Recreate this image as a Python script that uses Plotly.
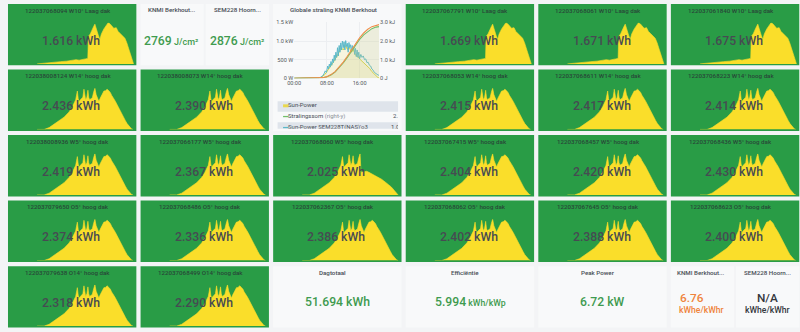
import plotly.graph_objects as go

# ------------------------------------------------------------------ data
PANEL_TITLES = [
    "122037068094 W10° Laag dak", "122037067791 W10° Laag dak",
    "122037068061 W10° Laag dak", "122037061840 W10° Laag dak",
    "122038008124 W14° hoog dak", "122038008073 W14° hoog dak",
    "122037068053 W14° hoog dak", "122037068611 W14° hoog dak",
    "122037068223 W14° hoog dak",
    "122038008936 W5° hoog dak", "122037066177 W5° hoog dak",
    "122037068060 W5° hoog dak", "122037067415 W5° hoog dak",
    "122037068457 W5° hoog dak", "122037068436 W5° hoog dak",
    "122037079650 O5° hoog dak", "122037068486 O5° hoog dak",
    "122037062367 O5° hoog dak", "122037068062 O5° hoog dak",
    "122037067645 O5° hoog dak", "122037068623 O5° hoog dak",
    "122037079638 O14° hoog dak", "122037068499 O14° hoog dak",
]
PANEL_KWH = [
    "1.616", "1.669", "1.671", "1.675",
    "2.436", "2.390", "2.415", "2.417", "2.414",
    "2.419", "2.367", "2.025", "2.404", "2.420", "2.430",
    "2.374", "2.336", "2.386", "2.402", "2.388", "2.400",
    "2.318", "2.290",
]
PANEL_PROFILE = [
    "laag", "laag", "laag", "laag",
    "hoog", "hoog", "hoog", "hoog", "hoog",
    "hoog", "hoog", "schaduw", "hoog", "hoog", "hoog",
    "hoog", "hoog", "hoog", "hoog", "hoog", "hoog",
    "hoog", "hoog",
]

# sparkline profiles (hour of day, watt)
LAAG_T = [4.7, 5.5, 6.5, 7.5, 8.5, 9.5, 10.5, 11.0, 11.5, 12.0, 12.5, 12.9, 13.0,
          13.3, 13.6, 13.85, 14.05, 14.3, 14.6, 14.85, 15.1, 15.5, 15.9, 16.2,
          16.5, 16.8, 17.1, 17.5, 17.8, 18.1, 18.3, 18.6, 18.9, 19.2, 19.4, 19.7,
          20.0, 20.15, 20.3]
LAAG_W = [0, 5, 10, 14, 18, 22, 28, 34, 30, 38, 40, 44, 220,
          240, 280, 300, 318, 270, 230, 195, 240, 280, 315, 330,
          320, 300, 285, 290, 260, 245, 235, 215, 205, 170, 140, 90,
          40, 12, 0]
HOOG_T = [4.7, 5.84, 6.65, 7.45, 8.26, 9.06, 9.87, 10.40, 10.94, 11.21, 11.35,
          11.47, 11.70, 11.90, 12.10, 12.28, 12.42, 12.55, 12.75, 12.92, 13.05,
          13.19, 13.40, 13.62, 13.85, 14.05, 14.25, 14.42, 14.69, 14.88, 15.07,
          15.30, 15.50, 15.75, 16.03, 16.30, 16.56, 16.75, 16.94, 17.15, 17.37,
          17.65, 17.91, 18.20, 18.45, 18.70, 18.98, 19.25, 19.52, 19.75, 19.95,
          20.2]
HOOG_W = [0, 0, 14, 41, 68, 95, 136, 176, 230, 298, 240,
          217, 230, 244, 250, 312, 260, 230, 250, 304, 250,
          230, 238, 244, 290, 320, 270, 244, 217, 240, 258,
          280, 298, 300, 312, 300, 285, 265, 244, 235, 217,
          190, 163, 135, 108, 88, 68, 45, 27, 14, 5,
          0]
SCHADUW_T = [4.7, 5.84, 6.65, 7.45, 8.26, 9.06, 9.87, 10.40, 10.94, 11.21, 11.35,
             11.47, 11.70, 11.90, 12.10, 12.28, 12.42, 12.55, 12.75, 12.92, 13.05,
             13.19, 13.40, 13.62, 13.85, 14.05, 14.2, 14.5, 14.8, 15.12, 15.4,
             15.7, 15.92, 16.3, 16.73, 17.1, 17.53, 17.9, 18.34, 18.7, 19.14,
             19.5, 19.95, 20.2]
SCHADUW_W = [0, 0, 14, 41, 68, 95, 136, 176, 230, 298, 240,
             217, 230, 244, 250, 312, 260, 230, 250, 304, 250,
             230, 238, 244, 290, 320, 176, 180, 185, 184, 178,
             170, 168, 158, 149, 135, 122, 108, 95, 78, 60,
             38, 14, 0]

# Globale straling chart
SEM_T = [0, 5.5, 6.0, 6.5, 7.0, 7.3, 7.6, 7.9, 8.2, 8.4, 8.6, 8.8, 9.0, 9.2, 9.4,
         9.6, 9.8, 10.0, 10.2, 10.4, 10.6, 10.8, 11.0, 11.2, 11.4, 11.6, 11.8,
         12.0, 12.2, 12.4, 12.6, 12.8, 13.0, 13.2, 13.4, 13.6, 13.8, 14.0, 14.2,
         14.4, 14.6, 14.8, 15.0, 15.2, 15.4, 15.6, 15.8, 16.0, 16.3, 16.6, 16.9,
         17.2, 17.5, 17.8, 18.1, 18.4, 18.7, 19.0, 19.3, 19.6, 19.9, 20.2, 20.5,
         20.75]
SEM_W = [0, 0, 10, 30, 70, 120, 200, 160, 330, 250, 380, 300, 450, 350, 520,
         420, 620, 480, 700, 560, 820, 600, 880, 700, 950, 760, 1000,
         820, 980, 760, 1010, 850, 940, 700, 960, 820, 900, 720, 880,
         760, 840, 640, 800, 580, 760, 560, 700, 520, 640, 560, 600,
         500, 520, 420, 430, 350, 330, 250, 220, 160, 130, 110, 90,
         80]
KNMI_T = [0, 5.5, 6.5, 7.5, 8.5, 9.5, 10.5, 11.0, 11.5, 12.0, 12.5, 13.0, 13.5,
          14.0, 14.5, 15.0, 15.5, 16.0, 16.5, 17.0, 17.5, 18.0, 18.5, 19.0, 19.5,
          20.0, 20.5, 20.75]
KNMI_W = [0, 0, 20, 100, 250, 420, 600, 700, 820, 760, 880, 780, 820,
          700, 760, 620, 600, 520, 470, 420, 380, 320, 260, 180, 120,
          60, 20, 10]
CUM_T = [0, 5, 6, 7, 8, 9, 10, 11, 12, 13, 14, 15, 16, 17, 18, 19, 20, 20.75]
CUM_KNMI = [0, 0, 0.01, 0.03, 0.08, 0.18, 0.33, 0.55, 0.82, 1.12, 1.45, 1.78,
            2.08, 2.33, 2.52, 2.66, 2.745, 2.769]
CUM_SEM = [0, 0, 0.01, 0.035, 0.09, 0.2, 0.36, 0.59, 0.87, 1.18, 1.52, 1.86,
           2.17, 2.43, 2.63, 2.77, 2.85, 2.876]
X_TICKS = [0, 8, 16]
X_LABELS = ["00:00", "08:00", "16:00"]
POWER_TICKS = [0, 500, 1000, 1500]
POWER_LABELS = ["0 W", "500 W", "1.0 kW", "1.5 kW"]
ENERGY_TICKS = [0, 1, 2, 3]
ENERGY_LABELS = ["0 J", "1.0 kJ", "2.0 kJ", "3.0 kJ"]
LEGEND_NAMES = ["Sun-Power", "Stralingssom", "Sun-Power SEM228T(NAS)'o3"]
LEGEND_VALUES = ["", "2.77 kJ", "1.06 kW"]

# stat panels
KNMI_SUM, SEM_SUM = "2769", "2876"
DAGTOTAAL = "51.694"
EFFICIENTIE = "5.994"
PEAK_POWER = "6.72"
KNMI_RATIO, SEM_RATIO = "6.76", "N/A"

# ------------------------------------------------------------------ layout helpers
W, H = 800, 332
BG = "#f3f4f6"
PANEL_BG = "#f8f9fa"
GREEN = "#299c46"
YELLOW = "#fade2a"
TEXT = "#464c54"
VAL_GREEN = "#3f9b4f"
ORANGE = "#ef843c"
FONT = "Roboto, Inter, sans-serif"

PANEL_SLOTS = [(0, 0), (0, 3), (0, 4), (0, 5),
               (1, 0), (1, 1), (1, 3), (1, 4), (1, 5),
               (2, 0), (2, 1), (2, 2), (2, 3), (2, 4), (2, 5),
               (3, 0), (3, 1), (3, 2), (3, 3), (3, 4), (3, 5),
               (4, 0), (4, 1)]
COL_X0 = [1 + 133.75 * i for i in range(6)]
ROW_Y0 = [1 + 66.75 * j for j in range(5)]
PW, PH = 129.5, 62.5


def fx(px):
    return px / W


def fy(py):
    return 1 - py / H


fig = go.Figure()
layout = dict(width=W, height=H, autosize=False,
              margin=dict(l=0, r=0, t=0, b=0, pad=0),
              paper_bgcolor=BG, plot_bgcolor="rgba(0,0,0,0)",
              showlegend=False, font=dict(family=FONT, color=TEXT))
shapes, annots = [], []


def rect(x0, y0, x1, y1, color, layer="below"):
    shapes.append(dict(type="rect", xref="paper", yref="paper",
                       x0=fx(x0), x1=fx(x1), y0=fy(y1), y1=fy(y0),
                       fillcolor=color, line=dict(width=0), layer=layer))


def text(x, y, s, size, color=TEXT, weight=400, xanchor="center"):
    annots.append(dict(x=fx(x), y=fy(y), xref="paper", yref="paper", text=s,
                       showarrow=False, xanchor=xanchor, yanchor="middle",
                       font=dict(size=size, color=color, family=FONT, weight=weight),
                       borderpad=0))


profiles = {"laag": (LAAG_T, LAAG_W), "hoog": (HOOG_T, HOOG_W),
            "schaduw": (SCHADUW_T, SCHADUW_W)}

# ------------------------------------------------------------------ green sparkline stat panels
for k, (title, val, prof, (r, c)) in enumerate(zip(PANEL_TITLES, PANEL_KWH,
                                                    PANEL_PROFILE, PANEL_SLOTS)):
    x0, y0 = COL_X0[c], ROW_Y0[r]
    x1, y1 = x0 + PW, y0 + PH
    rect(x0, y0, x1, y1, GREEN)
    n = 10 + k
    t, w = profiles[prof]
    layout[f"xaxis{n}"] = dict(domain=[fx(x0), fx(x1)], range=[0, 20.75],
                               visible=False, fixedrange=True, anchor=f"y{n}")
    layout[f"yaxis{n}"] = dict(domain=[fy(y1 - 1.5), fy(y0 + 19)],
                               range=[0, max(w)], visible=False,
                               fixedrange=True, anchor=f"x{n}")
    fig.add_trace(go.Scatter(x=t, y=w, mode="lines", fill="tozeroy",
                             fillcolor=YELLOW, line=dict(color=YELLOW, width=0.6),
                             xaxis=f"x{n}", yaxis=f"y{n}", hoverinfo="skip"))
    cx = (x0 + x1) / 2
    text(cx - 4.5, y0 + 6.8, title, 6.2, color="rgba(40,46,52,0.8)", weight=500)
    text(cx - 1, y0 + 37.5, f"{val} kWh", 12.2, color="#464b52", weight=500)

# ------------------------------------------------------------------ white stat panels
c1 = COL_X0[1]
rect(c1, ROW_Y0[0], c1 + 63.75, ROW_Y0[0] + PH, PANEL_BG)
rect(c1 + 65.75, ROW_Y0[0], c1 + PW, ROW_Y0[0] + PH, PANEL_BG)
text(166, 6.8, "KNMI Berkhout...", 6.2, weight=500)
text(165.5, 39, f"{KNMI_SUM}<span style='font-size:9px'> J/cm²</span>", 12.2,
     color=VAL_GREEN, weight=500)
text(233, 6.8, "SEM228 Hoorn...", 6.2, weight=500)
text(233, 39, f"{SEM_SUM}<span style='font-size:9px'> J/cm²</span>", 12.2,
     color=VAL_GREEN, weight=500)

yb = ROW_Y0[4]
for c in (2, 3, 4):
    rect(COL_X0[c], yb, COL_X0[c] + PW, yb + PH, PANEL_BG)
c5 = COL_X0[5]
rect(c5, yb, c5 + 63.75, yb + PH, PANEL_BG)
rect(c5 + 65.75, yb, c5 + PW, yb + PH, PANEL_BG)
text(328.8, yb + 6.8, "Dagtotaal", 6.2, weight=500)
text(333.3, yb + 37, f"{DAGTOTAAL} kWh", 12.2, color=VAL_GREEN, weight=500)
text(462.5, yb + 6.8, "Efficiëntie", 6.2, weight=500)
text(467.2, yb + 37, f"{EFFICIENTIE}<span style='font-size:8.7px'> kWh/kWp</span>",
     12.2, color=VAL_GREEN, weight=500)
text(596.3, yb + 6.8, "Peak Power", 6.2, weight=500)
text(600.8, yb + 37, f"{PEAK_POWER} kW", 12.2, color=VAL_GREEN, weight=500)
text(700.5, yb + 6.8, "KNMI Berkhout...", 6.2, weight=500)
text(691, yb + 32.3, KNMI_RATIO, 11.8, color=ORANGE, weight=500)
text(700.7, yb + 44.2, "kWhe/kWhr", 8.6, color=ORANGE, weight=500)
text(767, yb + 6.8, "SEM228 Hoorn...", 6.2, weight=500)
text(767.7, yb + 32.3, SEM_RATIO, 11.8, color="#33373d", weight=500)
text(767.7, yb + 44.2, "kWhe/kWhr", 8.6, color="#33373d", weight=500)

# ------------------------------------------------------------------ chart panel
cx0 = COL_X0[2]
rect(cx0, ROW_Y0[0], cx0 + PW, ROW_Y0[1] + PH, PANEL_BG)
text(329, 6.8, "Globale straling KNMI Berkhout", 6.2, weight=500)

tickfont = dict(size=5.6, color="#555a61", family=FONT)
layout["xaxis"] = dict(domain=[fx(289.7), fx(375.3)], range=[0, 20.75],
                       tickvals=X_TICKS, ticktext=X_LABELS, tickfont=tickfont,
                       showgrid=True, gridcolor="#eceef1", gridwidth=0.6,
                       zeroline=False, showline=False, ticks="", fixedrange=True,
                       anchor="y")
layout["yaxis"] = dict(domain=[fy(76.7), fy(19.7)], range=[0, 1500],
                       tickvals=POWER_TICKS, ticktext=POWER_LABELS, tickfont=tickfont,
                       showgrid=True, gridcolor="#eceef1", gridwidth=0.6,
                       zeroline=False, showline=False, ticks="", fixedrange=True,
                       anchor="x")
layout["yaxis2"] = dict(overlaying="y", side="right", range=[0, 3],
                        tickvals=ENERGY_TICKS, ticktext=ENERGY_LABELS,
                        tickfont=tickfont, showgrid=False, zeroline=False,
                        showline=False, ticks="", fixedrange=True, anchor="x")

fig.add_trace(go.Scatter(x=KNMI_T, y=KNMI_W, mode="lines", fill="tozeroy",
                         fillcolor="rgba(242,222,60,0.14)",
                         line=dict(color="#d6d33f", width=1),
                         xaxis="x", yaxis="y", hoverinfo="skip"))
fig.add_trace(go.Scatter(x=SEM_T, y=SEM_W, mode="lines",
                         line=dict(color="#5cb8c8", width=1),
                         xaxis="x", yaxis="y", hoverinfo="skip"))
fig.add_trace(go.Scatter(x=CUM_T, y=CUM_KNMI, mode="lines", fill="tozeroy",
                         fillcolor="rgba(200,204,130,0.25)",
                         line=dict(color="#73bf69", width=1.1),
                         xaxis="x", yaxis="y2", hoverinfo="skip"))
fig.add_trace(go.Scatter(x=CUM_T, y=CUM_SEM, mode="lines",
                         line=dict(color="#ef8f4a", width=1.1),
                         xaxis="x", yaxis="y2", hoverinfo="skip"))

# legend of the chart (clipped like a scroll area)
rect(273, 100, 394.5, 110.7, "#dfe4eb")
rect(273, 121.5, 394.5, 128, "#dfe4eb")
rect(278.5, 103.2, 284, 106.2, "#e9d84c")
rect(278.5, 115.0, 284, 116.3, "#73bf69")
rect(278.5, 126.2, 284, 127.5, "#5cb8c8")
layout["xaxis8"] = dict(domain=[fx(269), fx(394.5)], range=[269, 394.5],
                        visible=False, fixedrange=True, anchor="y8")
layout["yaxis8"] = dict(domain=[fy(128), fy(98)], range=[128, 98],
                        visible=False, fixedrange=True, anchor="x8")
leg_y = [104.9, 115.8, 126.8]
leg_text = [LEGEND_NAMES[0],
            LEGEND_NAMES[1] + " <span style='fill:#8a8f96'>(right-y)</span>",
            LEGEND_NAMES[2]]
fig.add_trace(go.Scatter(x=[283.5] * 3, y=leg_y, mode="text", text=leg_text,
                         textposition="middle right",
                         textfont=dict(size=6, color=TEXT, family=FONT),
                         marker=dict(size=1), cliponaxis=True,
                         xaxis="x8", yaxis="y8", hoverinfo="skip"))
fig.add_trace(go.Scatter(x=[389.5, 387.5], y=leg_y[1:], mode="text",
                         text=LEGEND_VALUES[1:], textposition="middle right",
                         textfont=dict(size=6, color=TEXT, family=FONT),
                         marker=dict(size=1), cliponaxis=True,
                         xaxis="x8", yaxis="y8", hoverinfo="skip"))

layout["shapes"] = shapes
layout["annotations"] = annots
fig.update_layout(**layout)
fig.write_html("out.html")
